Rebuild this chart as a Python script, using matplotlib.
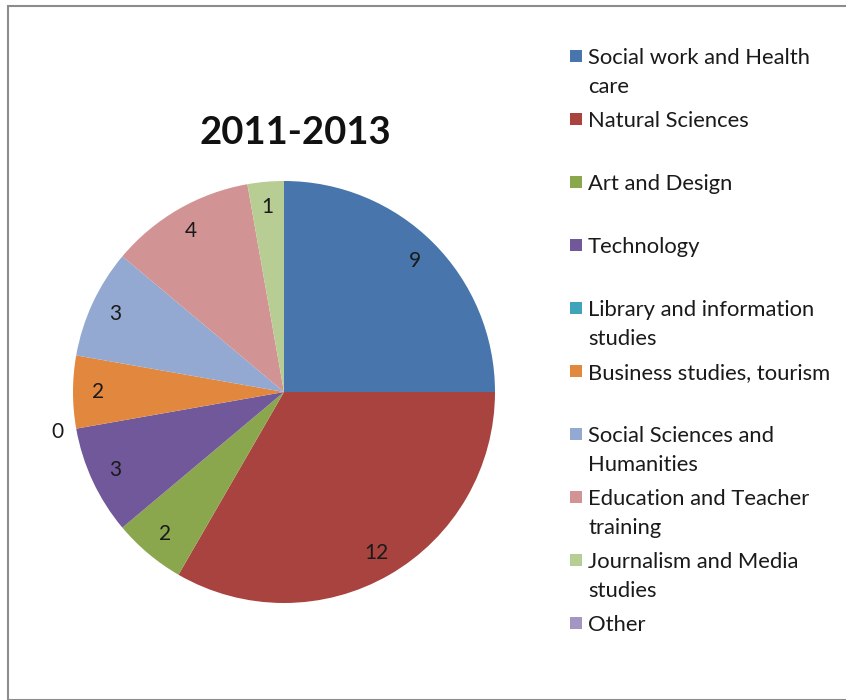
import matplotlib.pyplot as plt
import matplotlib.patches as mpatches
import numpy as np

categories = ["Social work and Health\ncare",
              "Natural Sciences",
              "Art and Design",
              "Technology",
              "Library and information\nstudies",
              "Business studies, tourism",
              "Social Sciences and\nHumanities",
              "Education and Teacher\ntraining",
              "Journalism and Media\nstudies",
              "Other"]
values = [9, 12, 2, 3, 0, 2, 3, 4, 1, 0]
show_label = [True, True, True, True, True, True, True, True, True, False]
colors = ['#4775AC', '#A8433F', '#8AA74E', '#71589A', '#3FA3BC',
          '#E2873E', '#93A9D1', '#D29394', '#B7CD94', '#A397C2']

W, H = 846, 700
plt.rcParams['font.family'] = ['Lato', 'DejaVu Sans']
fig = plt.figure(figsize=(W / 100, H / 100), dpi=100)

# outer frame (only top/left visible in the reference)
fig.patches.append(mpatches.Rectangle((8 / W, 0), 1, 1 - 6 / H, transform=fig.transFigure,
                                      fill=False, edgecolor='#8c8c8c', linewidth=1.5))

cx, cy, r = 284, 392, 211
ax = fig.add_axes([(cx - r) / W, 1 - (cy + r) / H, 2 * r / W, 2 * r / H])
wedges, _ = ax.pie(values, colors=colors, startangle=90, counterclock=False,
                   radius=1, wedgeprops=dict(linewidth=0))
ax.set_xlim(-1, 1)
ax.set_ylim(-1, 1)
ax.set_aspect('equal')
ax.axis('off')

for w, v, s in zip(wedges, values, show_label):
    if not s:
        continue
    ang = np.deg2rad((w.theta1 + w.theta2) / 2)
    d = 1.09 if v == 0 else 0.88
    ax.text(d * np.cos(ang), d * np.sin(ang), str(v), ha='center', va='center',
            fontsize=15, color='#1a1a1a')

fig.text(295 / W, 1 - 133 / H, "2011-2013", ha='center', va='center',
         fontsize=27.5, fontweight='bold', color='#111111')

# legend drawn by hand to keep Excel's even spacing
y0, step = 56, 63
for i, (lab, c) in enumerate(zip(categories, colors)):
    y = y0 + i * step
    fig.patches.append(mpatches.Rectangle((570 / W, 1 - (y + 6) / H), 12 / W, 12 / H,
                                          transform=fig.transFigure, facecolor=c,
                                          edgecolor='none'))
    fig.text(588 / W, 1 - (y - 8) / H, lab, ha='left', va='top', fontsize=15.8,
             color='#1a1a1a', linespacing=1.55)

fig.savefig('out.png', dpi=100)
